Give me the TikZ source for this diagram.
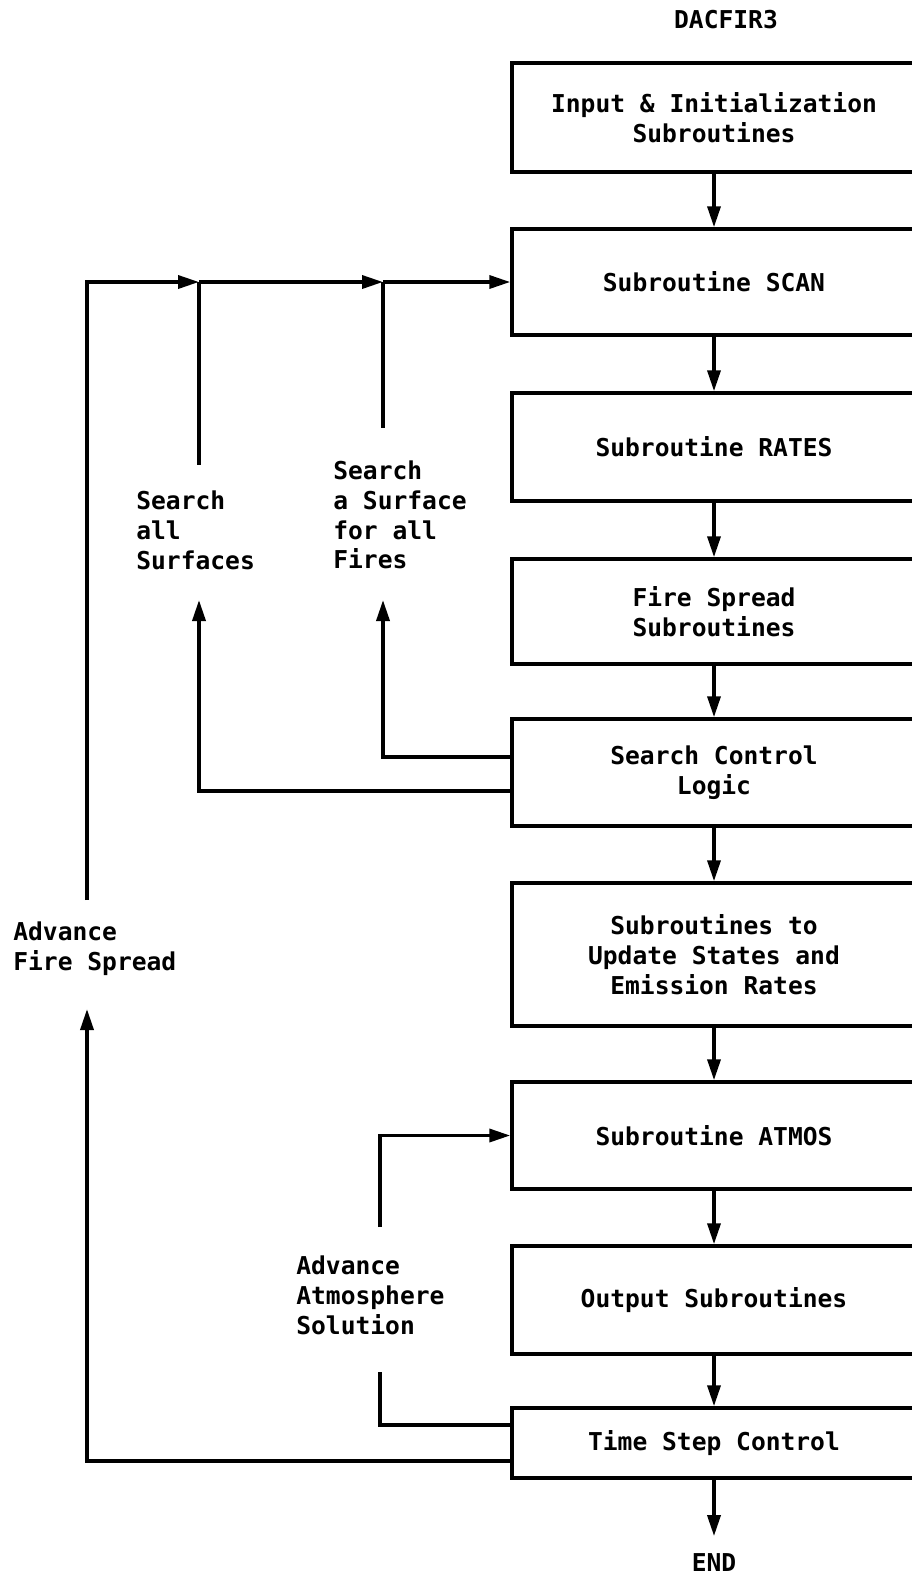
\documentclass[tikz,border=0pt]{standalone}
\usepackage{fontspec}
\setmonofont{DejaVu Sans Mono}
\usetikzlibrary{arrows.meta,calc}
\newcommand{\typew}{\ttfamily\bfseries\fontsize{14}{17}\selectfont}

\begin{document}
\begin{tikzpicture}[x=0.02cm,y=-0.02cm,>={Triangle[length=0.42cm,width=0.26cm]},line/.style={line width=2pt},arrow/.style={->,line width=2pt},box/.style={draw,line width=2pt,minimum width=8.08cm,minimum height=2.14cm,align=center,font=\typew},label/.style={align=left,inner sep=0pt,anchor=west,font=\typew}]
\useasboundingbox (0,0) rectangle (912,1576);
\node[font=\typew] (title) at (726,20) {DACFIR3};
\node[box,minimum height=2.18cm] (init) at (714,117.5) {Input \& Initialization\\Subroutines};
\node[box,minimum height=2.12cm] (scan) at (714,282) {Subroutine SCAN};
\node[box,minimum height=2.16cm] (rates) at (714,447) {Subroutine RATES};
\node[box,minimum height=2.1cm] (spread) at (714,611.5) {Fire Spread\\Subroutines};
\node[box] (search) at (714,772.5) {Search Control\\Logic};
\node[box,minimum height=2.86cm] (update) at (714,954.5) {Subroutines to\\Update States and\\Emission Rates};
\node[box] (atmos) at (714,1135.5) {Subroutine ATMOS};
\node[box,minimum height=2.16cm] (output) at (714,1300) {Output Subroutines};
\node[box,minimum height=1.4cm] (tstep) at (714,1443) {Time Step Control};
\node[font=\typew,inner ysep=10pt] (stop) at (714,1563) {END};
\draw[arrow] (init) -- (scan); \draw[arrow] (scan) -- (rates); \draw[arrow] (rates) -- (spread);
\draw[arrow] (spread) -- (search); \draw[arrow] (search) -- (update); \draw[arrow] (update) -- (atmos);
\draw[arrow] (atmos) -- (output); \draw[arrow] (output) -- (tstep); \draw[arrow] (tstep) -- (stop);
\node[label] (lblall) at (136,530) {Search\\all\\Surfaces};
\node[label] (lblone) at (333,515) {Search\\a Surface\\for all\\Fires};
\node[label] (lblfire) at (13,949) {Advance\\Fire Spread};
\node[label] (lblatm) at (296,1295) {Advance\\Atmosphere\\Solution};
\coordinate (fireup) at (87,1009); \coordinate (firedn) at (87,900);
\coordinate (allj) at (199,282); \coordinate (onej) at (383,282);
\coordinate (allend) at (199,465); \coordinate (oneend) at (383,428);
\coordinate (allup) at (199,600); \coordinate (oneup) at (383,600);
\coordinate (atmup) at (380,1227); \coordinate (atmdn) at (380,1372);
\draw[arrow] ($(tstep.west)+(0,18)$) -| (fireup); \draw[arrow] (firedn) |- (allj);
\draw[arrow] (allj) -- (onej); \draw[arrow] (onej) -- (scan);
\draw[line] (allj) -- (allend); \draw[line] (onej) -- (oneend);
\draw[arrow] ($(search.west)+(0,-15.5)$) -| (oneup); \draw[arrow] ($(search.west)+(0,18.5)$) -| (allup);
\draw[line] ($(tstep.west)+(0,-18)$) -| (atmdn); \draw[arrow] (atmup) |- (atmos);
\end{tikzpicture}
\end{document}
